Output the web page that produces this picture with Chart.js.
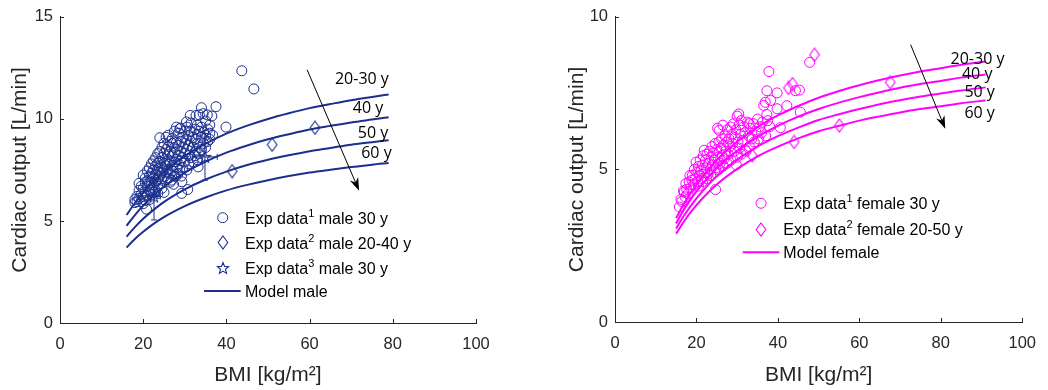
<!DOCTYPE html>
<html>
<head>
<meta charset="utf-8">
<script src="https://cdn.jsdelivr.net/npm/chart.js@4.4.1/dist/chart.umd.min.js"></script>
<style>
  html, body { margin: 0; padding: 0; background: #fff; }
  #wrap { position: relative; width: 1048px; height: 390px; }
  #male { position: absolute; left: 0; top: 0; }
  #female { position: absolute; left: 520px; top: 0; }
</style>
</head>
<body>
<div id="wrap">
  <canvas id="male" width="520" height="390"></canvas>
  <canvas id="female" width="528" height="390"></canvas>
</div>
<script>
// axis ticks
const xTickValues = [0, 20, 40, 60, 80, 100];
const maleYTicks = [0, 5, 10, 15];
const femaleYTicks = [0, 5, 10];
const ageLabels = ['20-30 y', '40 y', '50 y', '60 y'];

// model curves, male
const maleBmi = [16, 18, 20, 23, 26, 30, 35, 40, 45, 50, 55, 60, 65, 70, 75, 79];
const maleModel20 = [5.29, 5.88, 6.39, 7.04, 7.59, 8.19, 8.79, 9.28, 9.67, 10.00, 10.28, 10.53, 10.73, 10.92, 11.08, 11.20];
const maleModel40 = [4.76, 5.29, 5.75, 6.34, 6.83, 7.37, 7.91, 8.35, 8.70, 9.00, 9.25, 9.48, 9.66, 9.83, 9.97, 10.08];
const maleModel50 = [4.23, 4.70, 5.11, 5.63, 6.07, 6.55, 7.03, 7.42, 7.74, 8.00, 8.22, 8.42, 8.58, 8.74, 8.86, 8.96];
const maleModel60 = [3.70, 4.12, 4.47, 4.93, 5.31, 5.73, 6.15, 6.50, 6.77, 7.00, 7.20, 7.37, 7.51, 7.64, 7.76, 7.84];

// model curves, female
const femaleBmi = [15, 17, 20, 23, 26, 30, 35, 40, 45, 50, 55, 60, 65, 70, 75, 80, 85, 91];
const femaleModel20 = [3.40, 3.89, 4.50, 5.01, 5.44, 5.91, 6.39, 6.77, 7.08, 7.35, 7.57, 7.76, 7.93, 8.08, 8.21, 8.32, 8.43, 8.54];
const femaleModel40 = [3.23, 3.70, 4.28, 4.76, 5.17, 5.61, 6.07, 6.43, 6.73, 6.98, 7.19, 7.37, 7.53, 7.68, 7.80, 7.90, 8.01, 8.11];
const femaleModel50 = [3.06, 3.50, 4.05, 4.51, 4.90, 5.32, 5.75, 6.09, 6.37, 6.62, 6.81, 6.98, 7.14, 7.27, 7.39, 7.49, 7.59, 7.69];
const femaleModel60 = [2.89, 3.31, 3.83, 4.26, 4.62, 5.02, 5.43, 5.75, 6.02, 6.25, 6.43, 6.60, 6.74, 6.87, 6.98, 7.07, 7.17, 7.26];

// measurements, male [bmi, CO]
const maleExp1 = [
  [18.0,5.9],[18.0,6.05],[18.5,6.2],[18.5,5.95],[19.0,6.5],[19.0,6.84],[19.0,6.1],
  [19.5,6.3],[19.5,6.7],[19.5,5.95],[20.0,6.6],[20.0,7.25],[20.0,6.2],[20.0,5.85],
  [20.5,6.4],[20.5,6.9],[20.5,7.1],[20.5,6.0],[20.8,5.58],[21.0,6.7],[21.0,7.45],
  [21.0,6.25],[21.0,6.95],[21.5,6.5],[21.5,7.2],[21.5,6.85],[21.5,7.6],[21.5,6.05],
  [22.0,6.9],[22.0,7.35],[22.0,6.3],[22.0,7.8],[22.0,6.6],[22.5,7.1],[22.5,6.75],
  [22.5,7.5],[22.5,6.4],[22.5,7.95],[23.0,7.3],[23.0,6.9],[23.0,7.7],[23.0,6.5],
  [23.0,8.1],[23.0,7.0],[23.5,7.05],[23.5,7.55],[23.5,6.7],[23.5,8.3],[23.5,7.85],
  [23.5,6.35],[24.0,7.4],[24.0,9.08],[24.0,8.4],[24.0,6.8],[24.0,7.9],[24.0,7.2],
  [24.5,7.6],[24.5,8.1],[24.5,7.0],[24.5,8.6],[24.5,6.6],[24.5,7.35],[25.0,7.8],
  [25.0,8.3],[25.0,7.15],[25.0,8.8],[25.0,7.5],[25.0,6.4],[25.5,7.9],[25.5,7.4],
  [25.5,8.5],[25.5,9.1],[25.5,7.7],[26.0,8.0],[26.0,7.5],[26.0,8.65],[26.0,7.1],
  [26.0,9.2],[26.0,8.25],[26.5,7.85],[26.5,8.4],[26.5,7.3],[26.5,8.9],[26.5,6.9],
  [26.8,7.0],[27.0,8.2],[27.0,7.7],[27.0,8.8],[27.0,9.05],[27.0,7.45],[27.3,6.8],
  [27.5,8.35],[27.5,7.9],[27.5,9.4],[27.5,8.6],[27.5,7.2],[27.8,7.2],[28.0,8.5],
  [28.0,8.0],[28.0,9.6],[28.0,8.85],[28.0,7.6],[28.3,7.3],[28.5,8.7],[28.5,8.2],
  [28.5,9.3],[28.5,7.8],[28.8,9.52],[28.8,7.5],[29.0,8.4],[29.0,8.9],[29.0,9.55],
  [29.25,6.35],[29.0,7.95],[29.2,7.2],[29.3,6.92],[29.5,8.6],[29.5,9.1],[29.5,8.1],
  [29.5,7.6],[30.0,8.8],[30.0,9.4],[30.0,8.3],[30.0,7.9],[30.4,9.85],[30.7,6.54],
  [30.5,9.0],[30.5,8.5],[30.5,9.6],[30.5,7.5],[31.0,9.2],[31.0,8.7],[31.3,10.17],
  [31.0,8.2],[31.0,7.8],[31.5,9.4],[31.5,8.9],[31.5,9.8],[31.5,8.1],[32.0,9.1],
  [32.7,10.17],[32.0,8.6],[32.0,7.9],[32.5,9.5],[32.5,9.0],[32.5,8.4],[32.5,8.2],
  [33.0,9.7],[33.0,9.25],[33.0,8.8],[33.0,8.0],[33.2,7.65],[33.5,10.2],[33.5,9.4],
  [33.5,8.6],[33.5,8.3],[34.0,10.55],[34.0,9.6],[34.0,9.1],[34.0,8.5],[34.4,10.26],
  [34.5,9.35],[34.5,8.8],[35.0,9.9],[35.0,9.2],[35.0,8.6],[35.4,10.2],[35.5,9.5],
  [35.5,8.9],[36.0,9.3],[36.0,9.7],[36.0,9.0],[36.5,10.14],[36.7,9.2],[37.5,10.6],
  [39.9,9.6],[43.7,12.36],[46.6,11.47]
];
const maleExp2 = [[41.4, 7.44], [51.0, 8.74], [61.3, 9.57]];
const maleExp3 = [[22.6, 6.2], [34.85, 8.14]];
const maleExp3ErrX = [1.5, 2.95];
const maleExp3ErrY = [1.15, 1.14];

// measurements, female [bmi, CO]
const femaleExp1 = [
  [15.8,3.77],[16.2,4.02],[16.4,3.95],[16.8,4.3],[17.0,4.26],[17.2,4.1],[17.4,4.54],
  [17.6,4.35],[17.9,4.2],[18.2,4.59],[18.4,4.8],[18.6,4.4],[18.9,4.65],[19.0,4.81],
  [19.3,4.5],[19.5,5.0],[19.7,4.7],[19.9,5.24],[20.1,4.9],[20.3,4.6],[20.5,5.1],
  [20.5,4.45],[20.7,4.8],[20.9,5.3],[21.1,4.95],[21.3,4.7],[21.5,5.15],[21.5,4.6],
  [21.7,5.45],[21.9,5.63],[22.0,4.9],[22.2,5.3],[22.4,5.05],[22.5,4.7],[22.6,5.5],
  [22.8,4.85],[23.0,5.2],[23.2,5.6],[23.4,5.0],[23.5,4.8],[23.6,5.4],[23.8,5.75],
  [24.0,5.15],[24.2,5.55],[24.4,5.3],[24.5,4.9],[24.6,5.85],[24.7,4.34],[24.8,5.05],
  [25.0,5.65],[25.2,6.35],[25.3,5.4],[25.5,5.9],[25.5,5.0],[25.6,6.28],[25.8,5.2],
  [26.0,5.7],[26.2,6.0],[26.3,5.45],[26.5,6.45],[26.5,5.1],[26.6,5.8],[26.8,5.35],
  [27.0,6.1],[27.2,5.6],[27.4,5.9],[27.5,5.2],[27.6,6.3],[27.8,5.5],[28.0,6.0],
  [28.2,5.75],[28.4,6.39],[28.5,5.3],[28.7,6.15],[28.9,5.85],[29.1,6.5],[29.3,5.6],
  [29.5,6.05],[29.7,6.3],[29.8,5.15],[30.0,6.75],[30.0,5.4],[30.2,5.9],[30.4,6.82],
  [30.5,6.46],[30.6,5.7],[30.8,6.15],[31.0,6.6],[31.0,5.5],[31.3,5.95],[31.6,6.4],
  [31.9,6.2],[32.0,5.65],[32.2,5.6],[32.5,6.55],[32.8,6.1],[32.9,6.5],[33.0,5.75],
  [33.2,6.35],[33.6,6.0],[34.0,6.5],[34.2,5.9],[34.5,6.25],[35.0,6.65],[35.2,6.0],
  [35.5,6.4],[36.0,6.2],[36.2,6.55],[36.5,7.1],[36.9,7.2],[37.0,6.1],[37.3,7.58],
  [37.3,6.8],[37.5,6.6],[37.8,8.21],[38.0,6.4],[38.2,7.26],[39.8,7.51],[39.8,6.99],
  [40.6,6.37],[42.2,7.09],[44.3,7.58],[45.3,7.6],[45.5,6.88],[47.8,8.51]
];
const femaleExp2 = [[33.7, 5.46], [42.6, 7.67], [43.6, 7.8], [44.0, 5.9], [49.0, 8.76], [55.1, 6.44], [67.6, 7.86]];

const TEXT = '#262626';
const SANS = "'Liberation Sans', Arial, sans-serif";
const LABEL_FONT = "16px 'Open Sans', sans-serif";

function diamondImg(color) {
  const c = document.createElement('canvas');
  c.width = 12; c.height = 15;
  const g = c.getContext('2d');
  g.strokeStyle = color; g.lineWidth = 1.1;
  g.beginPath();
  g.moveTo(6, 1); g.lineTo(10.8, 7.5); g.lineTo(6, 14); g.lineTo(1.2, 7.5);
  g.closePath(); g.stroke();
  return c;
}

function starImg(color) {
  const c = document.createElement('canvas');
  c.width = 14; c.height = 14;
  const g = c.getContext('2d');
  g.strokeStyle = color; g.lineWidth = 1.1;
  g.beginPath();
  for (let i = 0; i < 10; i++) {
    const r = i % 2 ? 2.6 : 6;
    const a = -Math.PI / 2 + i * Math.PI / 5;
    const px = 7 + r * Math.cos(a), py = 7.5 + r * Math.sin(a);
    i ? g.lineTo(px, py) : g.moveTo(px, py);
  }
  g.closePath(); g.stroke();
  return c;
}

function curve(xs, ys) {
  return xs.map((x, i) => ({ x: x, y: ys[i] }));
}
function pts(list) {
  return list.map(p => ({ x: p[0], y: p[1] }));
}

function drawArrow(ctx, x0, y0, x1, y1) {
  const ang = Math.atan2(y1 - y0, x1 - x0);
  const len = 13, half = 4.5, notch = 9;
  ctx.save();
  ctx.strokeStyle = '#000'; ctx.fillStyle = '#000'; ctx.lineWidth = 1;
  ctx.beginPath();
  ctx.moveTo(x0, y0);
  ctx.lineTo(x1 - Math.cos(ang) * notch, y1 - Math.sin(ang) * notch);
  ctx.stroke();
  ctx.translate(x1, y1); ctx.rotate(ang);
  ctx.beginPath();
  ctx.moveTo(0, 0); ctx.lineTo(-len, -half); ctx.lineTo(-notch, 0); ctx.lineTo(-len, half);
  ctx.closePath(); ctx.fill();
  ctx.restore();
}

// inward ticks, error bars, age labels, arrow and legend
const decor = {
  id: 'decor',
  afterDatasetsDraw(chart, args, o) {
    if (!o.errors) return;
    const ctx = chart.ctx, xs = chart.scales.x, ys = chart.scales.y;
    const e = o.errors;
    ctx.save();
    ctx.strokeStyle = e.color; ctx.lineWidth = 1;
    e.points.forEach((p, i) => {
      const px = xs.getPixelForValue(p[0]), py = ys.getPixelForValue(p[1]);
      const yTop = ys.getPixelForValue(p[1] + e.errY[i]), yBot = ys.getPixelForValue(p[1] - e.errY[i]);
      const xL = xs.getPixelForValue(p[0] - e.errX[i]), xR = xs.getPixelForValue(p[0] + e.errX[i]);
      ctx.beginPath();
      ctx.moveTo(px, yTop); ctx.lineTo(px, yBot);
      ctx.moveTo(px - 3, yTop); ctx.lineTo(px + 3, yTop);
      ctx.moveTo(px - 3, yBot); ctx.lineTo(px + 3, yBot);
      ctx.moveTo(xL, py); ctx.lineTo(xR, py);
      ctx.moveTo(xL, py - 3); ctx.lineTo(xL, py + 3);
      ctx.moveTo(xR, py - 3); ctx.lineTo(xR, py + 3);
      ctx.stroke();
    });
    ctx.restore();
  },
  afterDraw(chart, args, o) {
    const ctx = chart.ctx, xs = chart.scales.x, ys = chart.scales.y;
    const area = chart.chartArea;
    ctx.save();
    ctx.strokeStyle = TEXT; ctx.lineWidth = 1;
    ctx.beginPath();
    xs.ticks.forEach(t => {
      const px = Math.round(xs.getPixelForValue(t.value)) + 0.5;
      ctx.moveTo(px, area.bottom); ctx.lineTo(px, area.bottom - 4);
    });
    ys.ticks.forEach(t => {
      const py = Math.round(ys.getPixelForValue(t.value)) + 0.5;
      ctx.moveTo(area.left, py); ctx.lineTo(area.left + 4, py);
    });
    ctx.stroke();

    // age labels next to the curve ends
    ctx.fillStyle = '#000';
    ctx.font = LABEL_FONT;
    ctx.textAlign = 'left'; ctx.textBaseline = 'middle';
    o.ages.forEach((a, i) => {
      ctx.fillText(ageLabels[i], xs.getPixelForValue(a[0]), ys.getPixelForValue(a[1]));
    });
    drawArrow(ctx, xs.getPixelForValue(o.arrow[0]), ys.getPixelForValue(o.arrow[1]),
      xs.getPixelForValue(o.arrow[2]), ys.getPixelForValue(o.arrow[3]));

    // legend
    const lg = o.legend;
    lg.rows.forEach(r => {
      if (r.type === 'circle') {
        ctx.strokeStyle = lg.color; ctx.lineWidth = 1;
        ctx.beginPath(); ctx.arc(lg.markerX, r.y, 5, 0, Math.PI * 2); ctx.stroke();
      } else if (r.type === 'line') {
        ctx.strokeStyle = lg.color; ctx.lineWidth = 2;
        ctx.beginPath(); ctx.moveTo(lg.lineFrom, r.y); ctx.lineTo(lg.lineTo, r.y); ctx.stroke();
      } else {
        ctx.drawImage(r.img, Math.round(lg.markerX - r.img.width / 2), Math.round(r.y - r.img.height / 2));
      }
      ctx.fillStyle = '#000';
      ctx.textBaseline = 'alphabetic';
      let x = lg.textX;
      const base = r.y + 6;
      ctx.font = '16px ' + SANS;
      ctx.fillText(r.text[0], x, base);
      x += ctx.measureText(r.text[0]).width;
      if (r.text.length > 1) {
        ctx.font = '11px ' + SANS;
        ctx.fillText(r.text[1], x, base - 7);
        x += ctx.measureText(r.text[1]).width;
        ctx.font = '16px ' + SANS;
        ctx.fillText(r.text[2], x, base);
      }
    });
    ctx.restore();
  }
};

function makeChart(id, cfg) {
  const lineDs = cfg.models.map(m => ({
    data: curve(cfg.bmi, m),
    showLine: true,
    borderColor: cfg.color,
    borderWidth: 2,
    pointRadius: 0,
    tension: 0.4,
    cubicInterpolationMode: 'monotone',
    order: 0
  }));
  const markDs = cfg.marks.map(m => ({
    data: pts(m.data),
    showLine: false,
    borderColor: cfg.color,
    backgroundColor: 'rgba(0,0,0,0)',
    borderWidth: 1,
    pointStyle: m.style,
    pointRadius: m.radius,
    order: 1
  }));
  return new Chart(document.getElementById(id), {
    type: 'scatter',
    data: { datasets: lineDs.concat(markDs) },
    options: {
      responsive: false,
      animation: false,
      events: [],
      layout: { padding: cfg.padding },
      plugins: { legend: { display: false }, tooltip: { enabled: false }, decor: cfg.decor },
      scales: {
        x: {
          type: 'linear', min: 0, max: 100,
          afterBuildTicks: s => { s.ticks = xTickValues.map(v => ({ value: v })); },
          afterFit: s => { s.height = cfg.xHeight; },
          grid: { display: false, drawTicks: false },
          border: { display: true, color: TEXT, width: 1 },
          ticks: { color: TEXT, font: { family: SANS, size: 16.5 }, padding: 12 },
          title: { display: true, text: 'BMI [kg/m²]', color: TEXT, font: { family: SANS, size: 21 }, padding: { top: 0, bottom: 2 } }
        },
        y: {
          type: 'linear', min: 0, max: cfg.yMax,
          afterBuildTicks: s => { s.ticks = cfg.yTicks.map(v => ({ value: v })); },
          afterFit: s => { s.width = cfg.yWidth; },
          grid: { display: false, drawTicks: false },
          border: { display: true, color: TEXT, width: 1 },
          ticks: { color: TEXT, font: { family: SANS, size: 16.5 }, padding: 7 },
          title: { display: true, text: 'Cardiac output [L/min]', color: TEXT, font: { family: SANS, size: 21 }, padding: { top: 8, bottom: 0 } }
        }
      }
    },
    plugins: [decor]
  });
}

const NAVY = '#1b2f8c';
const MAGENTA = '#ff00ff';
const navyDiamond = diamondImg(NAVY), navyStar = starImg(NAVY), pinkDiamond = diamondImg(MAGENTA);

makeChart('male', {
  color: NAVY,
  bmi: maleBmi,
  models: [maleModel20, maleModel40, maleModel50, maleModel60],
  marks: [
    { data: maleExp1, style: 'circle', radius: 5 },
    { data: maleExp2, style: navyDiamond, radius: 6 },
    { data: maleExp3, style: navyStar, radius: 6 }
  ],
  yMax: 15, yTicks: maleYTicks,
  padding: { left: 0, top: 16, right: 44, bottom: 0 },
  yWidth: 60, xHeight: 67,
  decor: {
    errors: { points: maleExp3, errX: maleExp3ErrX, errY: maleExp3ErrY, color: NAVY },
    ages: [[66.1, 11.93], [70.4, 10.52], [71.6, 9.30], [72.4, 8.32]],
    arrow: [59.4, 12.41, 71.9, 6.48],
    legend: {
      color: NAVY, markerX: 222.7, textX: 245, lineFrom: 204, lineTo: 240.7,
      rows: [
        { type: 'circle', y: 217.7, text: ['Exp data', '1', ' male 30 y'] },
        { type: 'img', img: navyDiamond, y: 242.7, text: ['Exp data', '2', ' male 20-40 y'] },
        { type: 'img', img: navyStar, y: 268.3, text: ['Exp data', '3', ' male 30 y'] },
        { type: 'line', y: 291, text: ['Model male'] }
      ]
    }
  }
});

makeChart('female', {
  color: MAGENTA,
  bmi: femaleBmi,
  models: [femaleModel20, femaleModel40, femaleModel50, femaleModel60],
  marks: [
    { data: femaleExp1, style: 'circle', radius: 5 },
    { data: femaleExp2, style: pinkDiamond, radius: 6 }
  ],
  yMax: 10, yTicks: femaleYTicks,
  padding: { left: 37, top: 16, right: 23, bottom: 0 },
  yWidth: 58, xHeight: 68,
  decor: {
    ages: [[82.4, 8.62], [85.2, 8.13], [85.8, 7.53], [85.8, 6.84]],
    arrow: [72.6, 9.09, 81.1, 6.33],
    legend: {
      color: MAGENTA, markerX: 241, textX: 263.3, lineFrom: 222.7, lineTo: 259.3,
      rows: [
        { type: 'circle', y: 203.3, text: ['Exp data', '1', ' female 30 y'] },
        { type: 'img', img: pinkDiamond, y: 229.3, text: ['Exp data', '2', ' female 20-50 y'] },
        { type: 'line', y: 252.3, text: ['Model female'] }
      ]
    }
  }
});
</script>
</body>
</html>
